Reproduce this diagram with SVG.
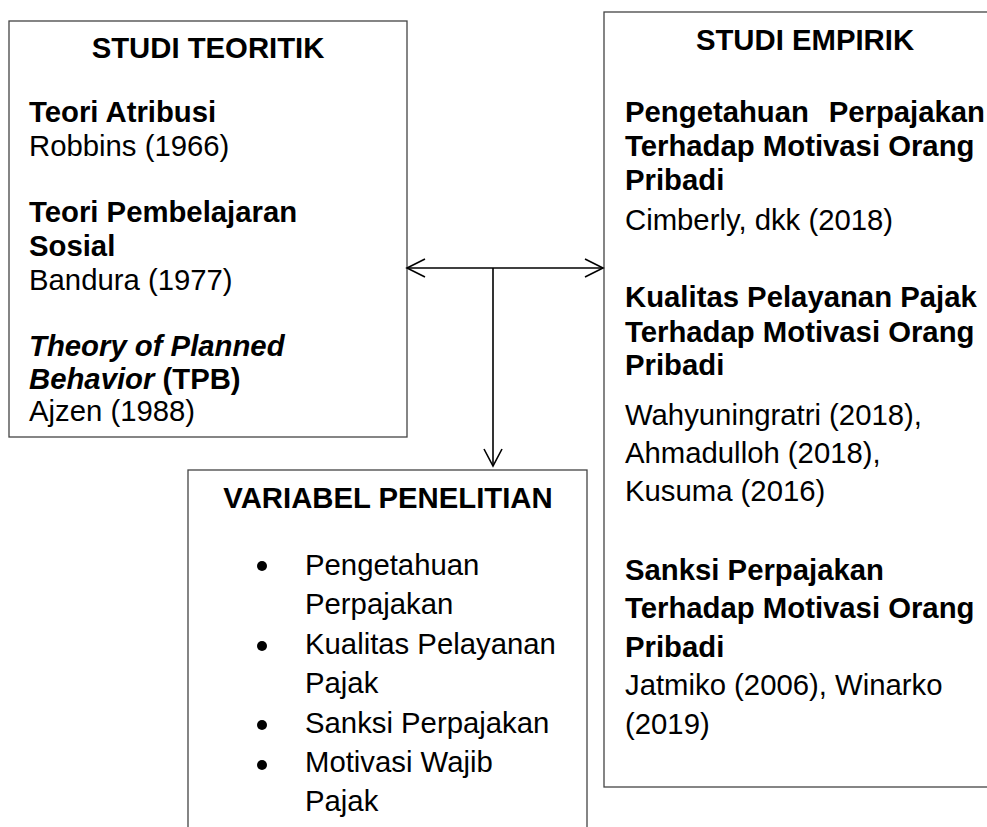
<svg xmlns="http://www.w3.org/2000/svg" width="987" height="827" viewBox="0 0 987 827">
<style>
text{font-family:"Liberation Sans",Arial,sans-serif;font-size:29.3px;fill:#000}
.b{font-weight:bold}
.i{font-style:italic}
.c{text-anchor:middle}
.box{fill:#fff;stroke:#444;stroke-width:1.3}
.con{fill:none;stroke:#000;stroke-width:1.6}
</style>
<rect width="987" height="827" fill="#fff"/>
<g id="studi-teoritik">
<rect class="box" x="9" y="21" width="398" height="416"/>
<text class="b c" x="208" y="58">STUDI TEORITIK</text>
<text class="b" x="29" y="122">Teori Atribusi</text>
<text x="29" y="156">Robbins (1966)</text>
<text class="b" x="29" y="222">Teori Pembelajaran</text>
<text class="b" x="29" y="256">Sosial</text>
<text x="29" y="290">Bandura (1977)</text>
<text class="b i" x="29" y="356">Theory of Planned</text>
<text class="b" x="29" y="389"><tspan class="i">Behavior</tspan> (TPB)</text>
<text x="29" y="421">Ajzen (1988)</text>
</g>
<g id="studi-empirik">
<rect class="box" x="604" y="12" width="420" height="775"/>
<text class="b c" x="805" y="50">STUDI EMPIRIK</text>
<text class="b" x="625" y="122">Pengetahuan</text>
<text class="b" x="985" y="122" text-anchor="end">Perpajakan</text>
<text class="b" x="625" y="156">Terhadap Motivasi Orang</text>
<text class="b" x="625" y="190">Pribadi</text>
<text x="625" y="230">Cimberly, dkk (2018)</text>
<text class="b" x="625" y="307">Kualitas Pelayanan Pajak</text>
<text class="b" x="625" y="342">Terhadap Motivasi Orang</text>
<text class="b" x="625" y="375">Pribadi</text>
<text x="625" y="425">Wahyuningratri (2018),</text>
<text x="625" y="463">Ahmadulloh (2018),</text>
<text x="625" y="501">Kusuma (2016)</text>
<text class="b" x="625" y="580">Sanksi Perpajakan</text>
<text class="b" x="625" y="618">Terhadap Motivasi Orang</text>
<text class="b" x="625" y="657">Pribadi</text>
<text x="625" y="695">Jatmiko (2006), Winarko</text>
<text x="625" y="734">(2019)</text>
</g>
<g id="variabel-penelitian">
<rect class="box" x="188" y="470" width="399" height="380"/>
<text class="b c" x="388" y="508">VARIABEL PENELITIAN</text>
<circle cx="262" cy="566" r="5"/>
<circle cx="262" cy="646" r="5"/>
<circle cx="262" cy="725" r="5"/>
<circle cx="262" cy="765" r="5"/>
<text x="305" y="575">Pengetahuan</text>
<text x="305" y="614">Perpajakan</text>
<text x="305" y="654">Kualitas Pelayanan</text>
<text x="305" y="693">Pajak</text>
<text x="305" y="733">Sanksi Perpajakan</text>
<text x="305" y="772">Motivasi Wajib</text>
<text x="305" y="811">Pajak</text>
</g>
<g id="connectors">
<path class="con" d="M407 268 H603"/>
<path class="con" d="M425 259 L407 268 L425 277"/>
<path class="con" d="M585 259 L603 268 L585 277"/>
<path class="con" d="M493 268 V466"/>
<path class="con" d="M484 449 L493 466 L502 449"/>
</g>
</svg>
